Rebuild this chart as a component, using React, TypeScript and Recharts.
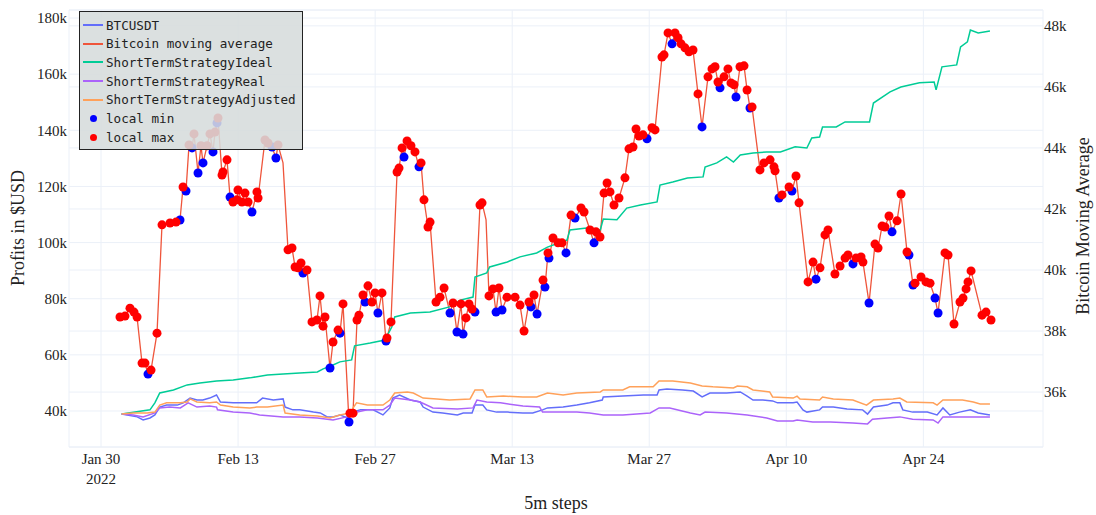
import React from "react";
import { CartesianGrid, ComposedChart, Line, Scatter, XAxis, YAxis } from "recharts";

type Pt = [number, number];

// x is "days since Jan 30 2022"
const xTickDays = [0, 14, 28, 42, 56, 70, 84];
const xTickLabels = [["Jan 30", "2022"], ["Feb 13"], ["Feb 27"], ["Mar 13"], ["Mar 27"], ["Apr 10"], ["Apr 24"]];
const profitTicks = [40000, 60000, 80000, 100000, 120000, 140000, 160000, 180000];
const averageTicks = [36000, 38000, 40000, 42000, 44000, 46000, 48000];

const btcusdt: Pt[] = [
  [2.1, 38900], [3.7, 37900], [4.3, 36800], [5.0, 37500], [5.5, 38600], [6.0, 41400], [6.7, 42100],
  [7.8, 42100], [8.4, 42900], [9.1, 44600], [9.8, 43900], [10.4, 43900], [11.1, 44600], [11.8, 45700],
  [12.2, 43200], [13.5, 42900], [14.9, 42900], [15.9, 42900], [16.5, 44600], [17.6, 43900], [18.6, 44300],
  [18.8, 41400], [19.6, 40400], [20.3, 40400], [21.7, 39600], [22.4, 39300], [23.1, 37900], [23.7, 37900],
  [24.4, 38600], [25.2, 37500], [25.7, 39600], [26.5, 40400], [27.8, 40400], [28.8, 38600], [29.5, 41100],
  [29.8, 44600], [30.5, 45700], [31.6, 43900], [32.6, 43200], [32.9, 41400], [33.9, 39600], [34.9, 39300],
  [36.4, 38600], [37.0, 39300], [37.9, 39300], [38.2, 42100], [39.0, 42100], [39.4, 40400], [40.4, 39600],
  [41.5, 39600], [43.1, 39300], [44.1, 39300], [45.1, 40400], [45.6, 41100], [47.2, 41400], [48.6, 42100],
  [49.9, 42900], [51.2, 43900], [51.3, 45000], [53.3, 45300], [55.4, 45700], [56.8, 45700], [57.0, 47500],
  [57.8, 47800], [59.4, 47500], [60.5, 47100], [61.4, 45000], [62.2, 46400], [63.9, 46400], [65.3, 46800],
  [66.0, 45300], [66.6, 43900], [67.6, 43900], [68.6, 43600], [69.1, 42900], [70.7, 42900], [71.1, 43200],
  [71.7, 40400], [72.1, 39600], [73.4, 40400], [73.7, 41400], [74.8, 41400], [76.2, 40700], [77.8, 40400],
  [78.3, 38900], [78.9, 41400], [80.3, 42100], [80.9, 42900], [81.6, 42900], [81.9, 40400], [82.9, 39600],
  [84.4, 39600], [85.4, 38600], [86.0, 41100], [86.7, 38600], [87.7, 39600], [88.8, 40400], [89.6, 39300],
  [90.8, 38600],
];

// [day, price, 1 = local max / -1 = local min / 0 = none]
const movingAverage: [number, number, number][] = [
  [1.94, 38460, 1], [2.45, 38490, 1], [2.96, 38750, 1], [3.37, 38620, 1], [3.68, 38460, 1], [4.19, 36950, 1],
  [4.49, 36950, 1], [4.8, 36590, -1], [5.11, 36720, 1], [5.72, 37930, 1], [6.23, 41480, 1], [7.05, 41540, 1],
  [7.66, 41570, 1], [8.07, 41640, -1], [8.38, 42720, 1], [8.68, 42590, -1], [8.99, 44100, 1], [9.3, 44000, -1],
  [9.5, 44460, 1], [9.91, 43180, -1], [10.21, 44070, 1], [10.42, 43510, -1], [10.83, 44070, 1], [11.13, 44460, 1],
  [11.44, 43870, -1], [11.64, 44520, 1], [11.85, 44820, -1], [11.95, 44980, 1], [12.36, 43110, 1], [12.46, 43210, 1],
  [12.87, 43610, 1], [13.18, 42390, -1], [13.48, 42230, 1], [13.89, 42300, 1], [13.99, 42620, 1], [14.4, 42230, 1],
  [14.71, 42520, 1], [15.02, 42230, 1], [15.42, 41900, -1], [15.93, 42560, 1], [16.04, 42360, 1], [16.75, 44260, 1],
  [17.06, 44160, 1], [17.47, 44030, -1], [17.87, 43670, -1], [18.08, 44100, 1], [18.59, 43510, 0], [19.1, 40660, 1],
  [19.51, 40720, 1], [19.82, 40100, 1], [20.12, 40070, 1], [20.43, 40230, 1], [20.63, 39900, -1], [21.04, 40000, 1],
  [21.55, 38300, 1], [22.06, 38360, 1], [22.37, 39150, 1], [22.68, 38160, 1], [22.88, 38460, 1], [23.39, 36790, -1],
  [23.7, 37640, 1], [24.21, 38030, 1], [24.41, 37930, -1], [24.72, 38890, 1], [25.33, 35020, -1], [25.43, 35310, 1],
  [25.74, 35310, 1], [26.15, 38360, 1], [26.35, 38520, 1], [26.76, 39180, 1], [26.97, 38950, -1], [27.27, 39480, 1],
  [27.68, 38950, 1], [27.99, 39250, 1], [28.29, 38590, -1], [28.7, 39250, 1], [29.11, 37670, -1], [29.21, 37770, 1],
  [29.62, 38300, 1], [30.24, 43210, 1], [30.44, 43340, 1], [30.75, 44000, 1], [30.95, 43700, -1], [31.26, 44230, 1],
  [31.66, 44070, 1], [32.07, 43870, 1], [32.48, 43380, -1], [32.69, 43510, 1], [32.99, 42300, 1], [33.4, 41410, 1],
  [33.61, 41570, 1], [34.22, 38950, 1], [34.63, 39110, 1], [35.04, 39410, 1], [35.65, 38590, -1], [35.96, 38920, 1],
  [36.36, 37970, -1], [36.77, 38890, 1], [36.98, 37900, -1], [37.28, 38430, 1], [37.59, 38890, 1], [37.9, 38720, 1],
  [38.2, 38620, -1], [38.71, 42130, 1], [38.92, 42200, 1], [39.33, 41640, 0], [39.63, 39150, 1], [40.04, 39380, 1],
  [40.35, 38620, -1], [40.65, 39410, 1], [40.96, 38690, -1], [41.47, 39110, 1], [42.29, 39110, 1], [42.8, 38850, 1],
  [43.21, 38000, 1], [43.72, 38950, 1], [43.92, 38790, -1], [44.23, 39180, 1], [44.54, 38560, -1], [45.15, 39670, 1],
  [45.35, 39440, -1], [45.66, 40560, 1], [45.76, 40390, -1], [46.17, 41050, 1], [46.68, 40890, 1], [47.09, 40890, 1],
  [47.5, 40560, -1], [48.01, 41800, 1], [48.42, 41700, -1], [49.03, 42030, 1], [49.34, 41900, 1], [49.95, 41310, 1],
  [50.36, 40890, -1], [50.56, 41250, 1], [50.97, 41080, 1], [51.38, 42520, 1], [51.69, 42850, 1], [51.99, 42560, 1],
  [52.4, 42130, 1], [52.91, 42360, 1], [53.52, 43020, 1], [53.93, 43970, 1], [54.34, 44030, 1], [54.65, 44620, 1],
  [54.95, 44390, 1], [55.36, 44430, 1], [55.77, 44300, -1], [56.28, 44660, 1], [56.59, 44590, 1], [57.3, 46980, 1],
  [57.51, 47050, 1], [57.92, 47770, 1], [58.33, 47410, -1], [58.63, 47770, 1], [58.94, 47610, 1], [59.25, 47410, 1],
  [59.65, 47280, 1], [60.06, 47150, 1], [60.47, 47210, 1], [60.98, 45770, 1], [61.39, 44690, -1], [62.0, 46330, 1],
  [62.41, 46590, 1], [62.72, 46660, 1], [63.02, 46160, 1], [63.23, 45970, -1], [63.64, 46330, 1], [64.04, 46590, 1],
  [64.35, 46130, 1], [64.66, 46070, 1], [64.86, 45670, -1], [65.27, 46660, 1], [65.68, 46690, 1], [65.99, 45900, 1],
  [66.29, 45310, -1], [66.5, 45340, 1], [67.31, 43280, 1], [67.72, 43510, 1], [68.34, 43610, 1], [68.74, 43380, 1],
  [68.85, 43250, 1], [69.25, 42360, -1], [69.56, 42460, 1], [70.28, 42720, 1], [70.58, 42590, -1], [70.99, 43080, 1],
  [71.3, 42200, 1], [72.22, 39610, 1], [72.73, 40260, 1], [73.03, 39700, -1], [73.44, 40070, 1], [73.95, 41150, 1],
  [74.26, 41310, 1], [74.97, 39870, 1], [75.49, 40130, 1], [76.0, 40390, 1], [76.3, 40490, 1], [76.81, 40200, -1],
  [77.12, 40390, 1], [77.63, 40430, 1], [77.83, 40260, 1], [78.45, 38920, -1], [79.06, 40850, 1], [79.37, 40720, 1],
  [79.78, 41440, 1], [80.08, 41410, 1], [80.49, 41770, 1], [80.8, 41250, -1], [81.31, 41610, 1], [81.72, 42490, 1],
  [82.33, 40590, 1], [82.53, 40490, -1], [82.94, 39510, -1], [83.15, 39570, 1], [83.76, 39770, 1], [84.27, 39610, 1],
  [84.68, 39570, 1], [85.19, 39080, -1], [85.5, 38590, -1], [86.21, 40560, 1], [86.52, 40490, 1], [87.13, 38230, 1],
  [87.74, 38950, 1], [88.05, 39080, 1], [88.36, 39380, 1], [88.56, 39610, 1], [88.87, 39970, 1], [89.99, 38520, 1],
  [90.4, 38620, 1], [90.91, 38360, 1],
];

const strategyIdeal: Pt[] = [
  [2.1, 38900], [5.0, 40400], [5.5, 42900], [6.0, 46400], [7.4, 47500], [8.8, 49300], [10.1, 50000],
  [11.8, 50700], [13.5, 51000], [15.2, 51800], [17.0, 52800], [18.6, 53200], [20.3, 53500], [22.1, 53900],
  [22.7, 55000], [23.7, 56400], [24.4, 57500], [25.6, 58200], [25.9, 63200], [27.5, 64200], [29.0, 65300],
  [29.7, 69900], [30.0, 73500], [31.6, 74900], [33.6, 75300], [35.6, 77100], [36.7, 79500], [38.0, 80600],
  [38.2, 87700], [39.4, 89200], [39.7, 91300], [41.5, 93100], [42.8, 94900], [44.5, 96300], [45.6, 98400],
  [47.6, 100900], [47.9, 104500], [49.6, 105200], [51.0, 104500], [51.3, 108400], [52.7, 108100], [53.7, 112300],
  [55.1, 113400], [56.8, 114500], [57.1, 120500], [58.4, 121600], [59.9, 123000], [61.5, 123400], [61.7, 126900],
  [62.9, 128400], [63.9, 130500], [64.6, 128700], [65.3, 131200], [66.6, 131900], [68.0, 132300], [69.4, 132300],
  [70.9, 134100], [72.1, 133700], [72.6, 137300], [73.4, 137600], [73.7, 141200], [75.1, 141200], [76.0, 143000],
  [78.5, 143000], [78.9, 149700], [80.6, 153700], [81.7, 155400], [83.6, 156900], [85.1, 157200], [85.3, 154400],
  [85.9, 162600], [87.4, 163300], [87.8, 169700], [88.5, 171500], [88.8, 175700], [89.6, 174700], [90.8, 175400],
];

const strategyReal: Pt[] = [
  [2.1, 38900], [3.3, 38600], [4.3, 37900], [5.5, 39300], [6.0, 41100], [7.0, 41400], [8.1, 41100],
  [8.9, 42900], [9.8, 41400], [11.1, 41800], [11.8, 41400], [11.9, 40400], [13.5, 39600], [15.2, 39300],
  [16.2, 38600], [18.6, 37900], [20.3, 37900], [22.1, 37500], [23.7, 36800], [25.1, 37900], [25.7, 39300],
  [27.2, 40400], [28.8, 40400], [29.5, 42100], [30.0, 44600], [30.8, 44300], [31.6, 43900], [32.6, 43200],
  [33.9, 41100], [36.4, 40700], [38.0, 41100], [38.4, 43900], [39.4, 43200], [40.8, 42900], [43.1, 41800],
  [44.8, 41400], [45.1, 39600], [48.6, 39600], [49.9, 39300], [51.3, 38600], [53.3, 38600], [56.1, 39300],
  [57.0, 41100], [58.1, 41100], [60.2, 39300], [61.2, 38600], [61.7, 39600], [63.9, 39300], [66.0, 38600],
  [68.0, 37500], [69.1, 36400], [70.7, 36400], [71.1, 36800], [72.7, 36100], [74.5, 36100], [76.8, 35700],
  [78.3, 35400], [78.8, 37100], [80.3, 37500], [81.6, 37900], [82.9, 37100], [85.0, 36800], [85.5, 35700],
  [86.0, 37900], [88.5, 37900], [90.8, 37900],
];

const strategyAdjusted: Pt[] = [
  [2.1, 38900], [3.3, 39300], [4.7, 39300], [5.5, 39600], [6.0, 42100], [6.7, 42900], [8.1, 42900],
  [8.8, 43200], [9.1, 44300], [9.8, 43200], [11.1, 42900], [11.8, 43200], [12.2, 42100], [13.5, 41400],
  [15.2, 41100], [15.9, 41400], [17.0, 41400], [18.6, 42100], [18.8, 39300], [20.3, 38600], [22.1, 38200],
  [23.4, 37500], [24.4, 38600], [25.4, 39300], [26.1, 42900], [27.2, 42100], [28.8, 42100], [29.5, 43900],
  [30.0, 46400], [31.3, 46800], [31.9, 46400], [32.9, 44600], [34.3, 44300], [35.6, 43900], [37.7, 44300],
  [38.2, 47500], [39.0, 47500], [39.4, 45000], [41.1, 45300], [43.1, 45000], [44.5, 45000], [45.6, 46400],
  [47.2, 45700], [48.6, 46400], [51.0, 46800], [51.3, 47500], [53.3, 47500], [54.0, 48600], [56.4, 48600],
  [57.0, 50700], [58.4, 50700], [60.2, 50000], [61.4, 48900], [62.5, 48600], [64.6, 48200], [65.0, 48900],
  [66.0, 48600], [66.6, 47500], [68.3, 46800], [68.6, 45000], [70.7, 44600], [71.1, 45300], [71.4, 44300],
  [73.4, 43900], [73.7, 45000], [74.8, 44300], [76.8, 43900], [78.2, 42100], [78.9, 43900], [80.9, 44300],
  [81.6, 44600], [82.3, 43200], [85.0, 42900], [85.4, 42100], [86.0, 43900], [88.0, 43900], [89.1, 43200],
  [89.8, 42500], [90.8, 42500],
];

const toRows = (pts: Pt[]) => pts.map(([d, v]) => ({ d, v }));

const maRows = toRows(movingAverage.map(([d, v]) => [d, v] as Pt));
const localMin = toRows(movingAverage.filter((p) => p[2] === -1).map(([d, v]) => [d, v] as Pt));
const localMax = toRows(movingAverage.filter((p) => p[2] === 1).map(([d, v]) => [d, v] as Pt));

const legendItems = [
  { name: "BTCUSDT", color: "#636efa", dot: false },
  { name: "Bitcoin moving average", color: "#ef553b", dot: false },
  { name: "ShortTermStrategyIdeal", color: "#00cc96", dot: false },
  { name: "ShortTermStrategyReal", color: "#ab63fa", dot: false },
  { name: "ShortTermStrategyAdjusted", color: "#ffa15a", dot: false },
  { name: "local min", color: "#0000ff", dot: true },
  { name: "local max", color: "#ff0000", dot: true },
];

const serif = "'Liberation Serif', 'Times New Roman', serif";
const kFormat = (v: number) => `${Math.round(v / 1000)}k`;

const DateTick = (props: any) => {
  const { x, y, payload } = props;
  const lines = xTickLabels[xTickDays.indexOf(payload.value)] || [];
  return (
    <text x={x} y={y} textAnchor="middle" fontFamily={serif} fontSize={15} fill="#222">
      {lines.map((line, i) => (
        <tspan key={i} x={x} dy={i === 0 ? 11 : 20}>
          {line}
        </tspan>
      ))}
    </text>
  );
};

const dotShape = (color: string) => (props: any) => (
  <circle cx={props.cx} cy={props.cy} r={4.5} fill={color} />
);

export default function App() {
  return (
    <div style={{ position: "relative", width: 1096, height: 515, background: "#fff" }}>
      <style>{"body{margin:0}"}</style>
      <ComposedChart width={1096} height={515} margin={{ top: 10, right: 0, bottom: 0, left: 0 }}>
        <CartesianGrid yAxisId="left" stroke="#ebf0f8" />
        <CartesianGrid yAxisId="right" vertical={false} stroke="#ebf0f8" />
        <XAxis
          type="number"
          dataKey="d"
          domain={[-3.27, 96.22]}
          ticks={xTickDays}
          interval={0}
          allowDataOverflow
          height={68}
          tickLine={false}
          axisLine={false}
          tickSize={0}
          tickMargin={6}
          tick={<DateTick />}
        />
        <YAxis
          yAxisId="left"
          type="number"
          dataKey="v"
          domain={[27170, 182860]}
          ticks={profitTicks}
          interval={0}
          allowDataOverflow
          width={69}
          tickLine={false}
          axisLine={false}
          tickSize={0}
          tickMargin={2}
          tickFormatter={kFormat}
          tick={{ fontFamily: serif, fontSize: 15, fill: "#222" }}
        />
        <YAxis
          yAxisId="right"
          orientation="right"
          type="number"
          dataKey="v"
          domain={[34200, 48520]}
          ticks={averageTicks}
          interval={0}
          allowDataOverflow
          width={53}
          tickLine={false}
          axisLine={false}
          tickSize={0}
          tickMargin={1}
          tickFormatter={kFormat}
          tick={{ fontFamily: serif, fontSize: 15, fill: "#222" }}
        />
        <Line yAxisId="left" data={toRows(btcusdt)} dataKey="v" stroke="#636efa" strokeWidth={1.5} dot={false} isAnimationActive={false} />
        <Line yAxisId="right" data={maRows} dataKey="v" stroke="#ef553b" strokeWidth={1.3} dot={false} isAnimationActive={false} />
        <Line yAxisId="left" data={toRows(strategyIdeal)} dataKey="v" stroke="#00cc96" strokeWidth={1.5} dot={false} isAnimationActive={false} />
        <Line yAxisId="left" data={toRows(strategyReal)} dataKey="v" stroke="#ab63fa" strokeWidth={1.5} dot={false} isAnimationActive={false} />
        <Line yAxisId="left" data={toRows(strategyAdjusted)} dataKey="v" stroke="#ffa15a" strokeWidth={1.5} dot={false} isAnimationActive={false} />
        <Scatter yAxisId="right" data={localMin} dataKey="v" shape={dotShape("#0000ff")} isAnimationActive={false} />
        <Scatter yAxisId="right" data={localMax} dataKey="v" shape={dotShape("#ff0000")} isAnimationActive={false} />
      </ComposedChart>

      {/* legend box, top left of the plot */}
      <div
        style={{
          position: "absolute",
          left: 79,
          top: 11,
          width: 222,
          height: 137,
          background: "rgba(214,220,220,0.88)",
          border: "1.5px solid #222",
          fontFamily: "'DejaVu Sans Mono', monospace",
          fontSize: 12.6,
          color: "#222",
        }}
      >
        {legendItems.map((item, i) => (
          <div key={item.name} style={{ position: "absolute", left: 0, top: 4 + i * 18.7, height: 18, display: "flex", alignItems: "center" }}>
            {item.dot ? (
              <span style={{ display: "inline-block", width: 7, height: 7, borderRadius: 4, background: item.color, marginLeft: 10, marginRight: 9 }} />
            ) : (
              <span style={{ display: "inline-block", width: 20, height: 2, background: item.color, marginLeft: 3, marginRight: 3 }} />
            )}
            <span>{item.name}</span>
          </div>
        ))}
      </div>

      <div style={{ position: "absolute", left: 18, top: 228, transform: "translate(-50%,-50%) rotate(-90deg)", whiteSpace: "nowrap", fontFamily: serif, fontSize: 18, color: "#222" }}>
        Profits in $USD
      </div>
      <div style={{ position: "absolute", left: 1083, top: 226, transform: "translate(-50%,-50%) rotate(-90deg)", whiteSpace: "nowrap", fontFamily: serif, fontSize: 18, color: "#222" }}>
        Bitcoin Moving Average
      </div>
      <div style={{ position: "absolute", left: 556, top: 503, transform: "translate(-50%,-50%)", whiteSpace: "nowrap", fontFamily: serif, fontSize: 18, color: "#222" }}>
        5m steps
      </div>
    </div>
  );
}
